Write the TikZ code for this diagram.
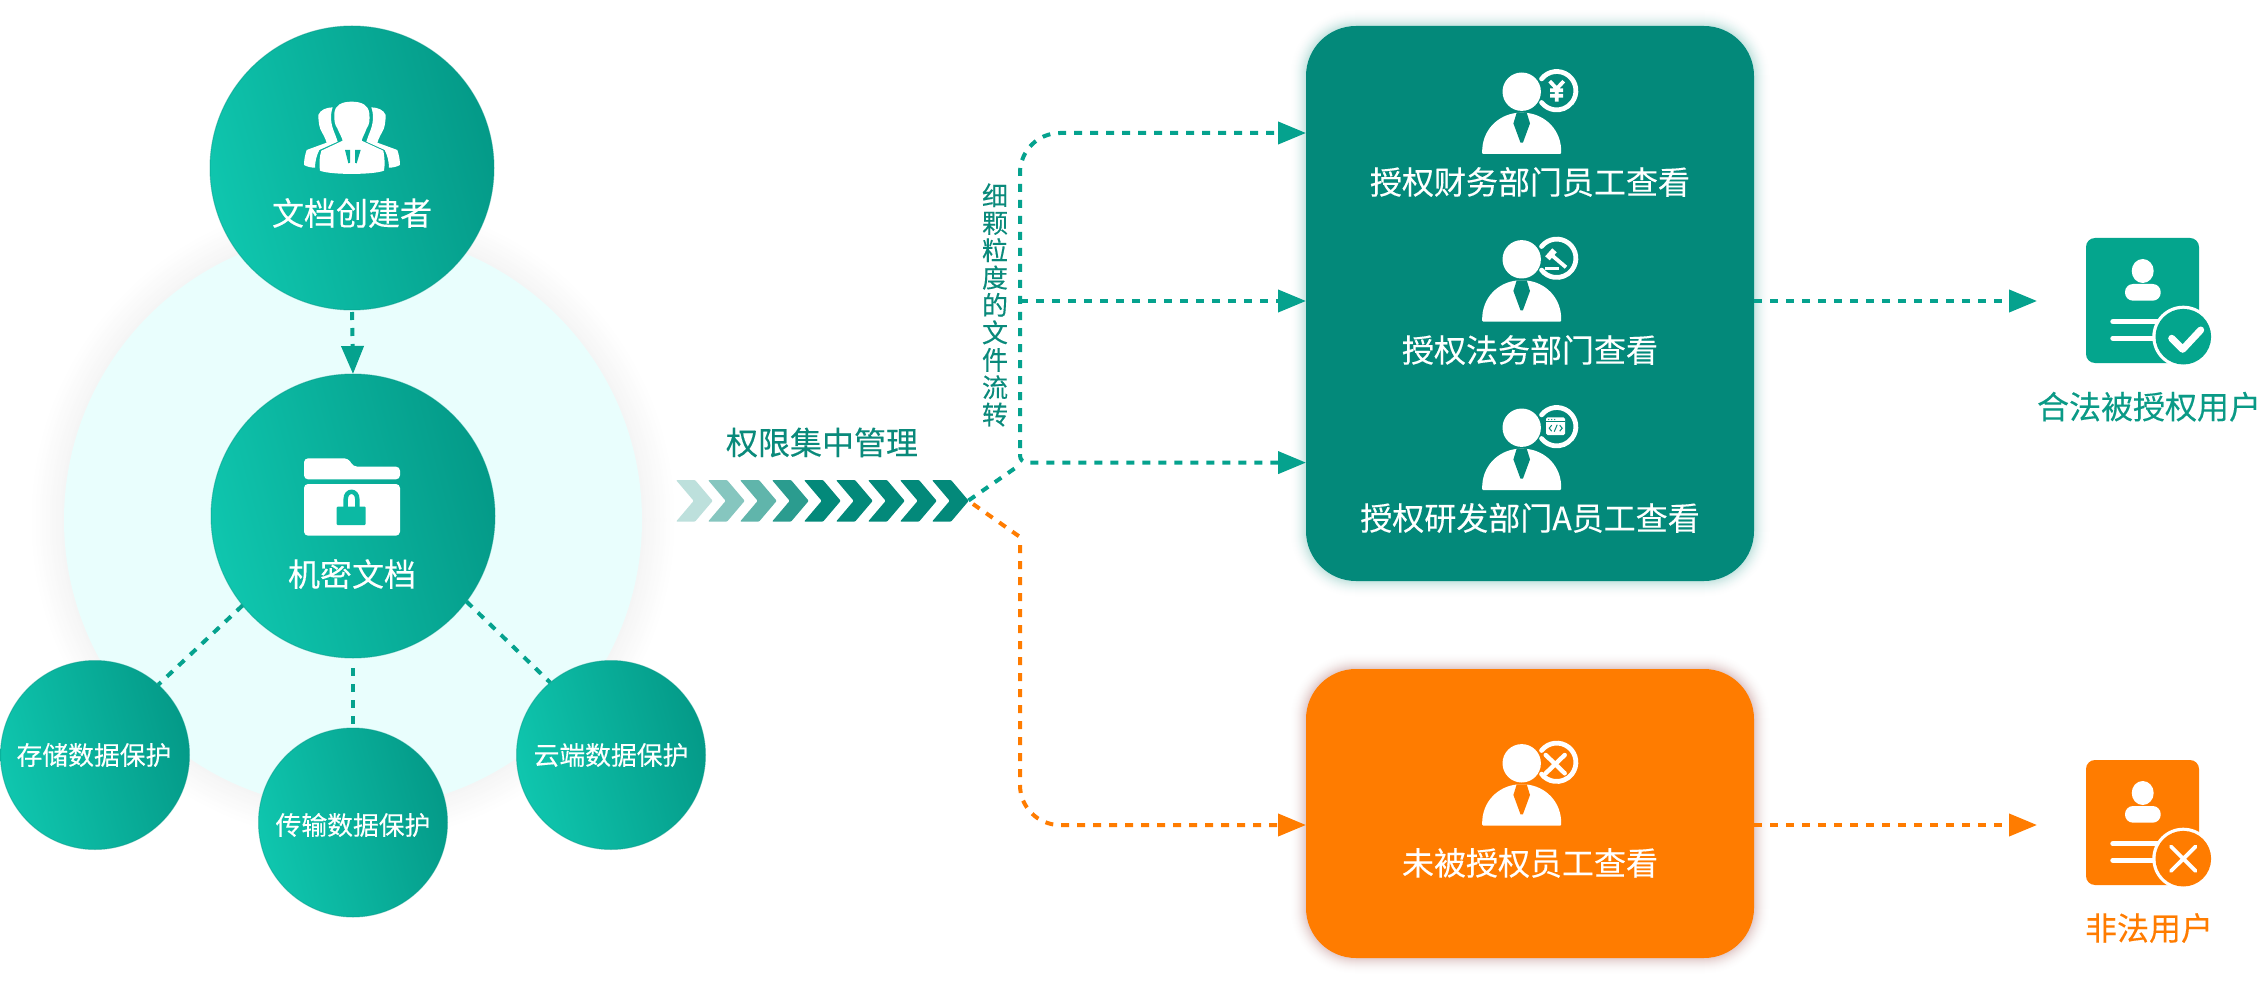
\documentclass[tikz,border=0pt]{standalone}
\usepackage{fontspec}
\setmainfont{Noto Sans CJK SC}[FakeBold=0.25]
\usetikzlibrary{arrows.meta,calc}
\definecolor{boxteal}{HTML}{03897A}
\definecolor{dashteal}{HTML}{05A28E}
\definecolor{cardteal}{HTML}{04A58D}
\definecolor{txtteal}{HTML}{0A8A7B}
\definecolor{legaltxt}{HTML}{0A9A86}
\definecolor{orng}{HTML}{FF7C00}
\definecolor{glowor}{HTML}{7E1A18}
\definecolor{pale}{HTML}{E9FEFD}
\definecolor{gradA}{HTML}{0FC6AE}
\definecolor{gradB}{HTML}{049A88}
\definecolor{rim}{HTML}{079A88}
\tikzset{
  ball/.style={circle,inner sep=0pt,outer sep=0pt,minimum size=#1,left color=gradA,right color=gradB,shading angle=105,draw=rim,draw opacity=.45,line width=1pt},
  lbl/.style={inner sep=0pt,outer sep=0pt,text=white,font=\fontsize{32}{36}\selectfont},
  smalllbl/.style={inner sep=0pt,outer sep=0pt,text=white,font=\fontsize{25.8}{30}\selectfont},
  tealflow/.style={draw=dashteal,line width=4pt,dash pattern=on 8pt off 8pt},
  orngflow/.style={draw=orng,line width=4pt,dash pattern=on 8pt off 8pt},
  tealhead/.style={-{Triangle[length=28pt,width=22pt,fill=dashteal]}},
  ornghead/.style={-{Triangle[length=28pt,width=22pt,fill=orng]}},
  bigbox/.style={rectangle,rounded corners=50pt,inner sep=0pt,outer sep=0pt,minimum width=448pt},
  cardshape/.style={rectangle,rounded corners=9pt,inner sep=0pt,outer sep=0pt,minimum width=113pt,minimum height=125pt}
}
% person icon, origin at the centre of the head
\newcommand{\personicon}[4]{%
  \begin{scope}[shift={(#1,#2)}]
    \fill[white] (0,0) circle[radius=19.2pt];
    \fill[white,rounded corners=1pt] (-39.5,62.3) -- (-39.5,58) .. controls (-38,35) and (-20,21) .. (0,21) .. controls (20,21) and (38,35) .. (39.5,58) -- (39.5,62.3) -- cycle;
    \fill[#3] (-5,21) -- (5,21) -- (8.3,31.7) -- (1.2,51) -- (-1.2,51) -- (-8.3,31.7) -- cycle;
    \draw[white,line width=4.8pt,line cap=round] (19.87,-12.82) arc[start angle=142,end angle=-142,radius=19.2pt];
    #4
  \end{scope}}
% person card
\newcommand{\usercard}[4]{%
  \node[cardshape,fill=#3] (#1) at (2142.5,#2) {};
  \begin{scope}[shift={(0,#2-300.5)}]
    \fill[white] (2142.7,271) ellipse[x radius=11pt,y radius=12pt];
    \fill[white,rounded corners=8pt] (2125,284) rectangle (2160.7,300.7);
    \draw[white,line width=5.5pt,line cap=round] (2113,321.7) -- (2165,321.7) (2113,338.3) -- (2165,338.3);
    \fill[white] (2183.3,336.7) circle[radius=31pt];
    \fill[#3] (2183.3,336.7) circle[radius=27.8pt];
    #4
  \end{scope}}
% soft glow of a big box
\newcommand{\glowbox}[6]{%
  \foreach \r in {16,15,...,1}{%
    \pgfmathsetmacro{\p}{#6*(1-\r/17)*(1-\r/17)}%
    \fill[#5!\p!white,rounded corners={(50+\r)*1pt}] (#1-\r,#2-\r) rectangle (#3+\r,#4+\r);
  }}
\begin{document}
\begin{tikzpicture}[x=1pt,y=-1pt]
\useasboundingbox (0,0) rectangle (2262,984);
\fill[white] (0,0) rectangle (2262,984);

% ---- big pale circle with its soft shadow
\foreach \r in {32,30,...,2}{%
  \pgfmathsetmacro{\p}{4*(1-\r/34)}%
  \fill[black!\p!white] (353,520) circle[radius={(289+\r)*1pt}];
}
\fill[pale] (353,520) circle[radius=289pt];

% ---- circles
\node[ball=284pt] (creator) at (352,168) {};
\node[ball=284pt] (doc) at (353,516) {};
\node[ball=189pt] (store) at (95,755) {};
\node[ball=189pt] (trans) at (353,822.5) {};
\node[ball=189pt] (cloud) at (611,755) {};

\node[lbl] (creatorlbl) at (352,213) {文档创建者};
\node[lbl] (doclbl) at (352,574) {机密文档};
\node[smalllbl] (storelbl) at (94,755) {存储数据保护};
\node[smalllbl] (translbl) at (353,825) {传输数据保护};
\node[smalllbl] (cloudlbl) at (611,755) {云端数据保护};

% ---- people icon in the top circle
\begin{scope}[shift={(180,0)},x=0.33333pt,y=-0.33333pt]
  \fill[white] (515,305) .. controls (545,305) and (565,315) .. (568,340) .. controls (570,360) and (568,375) .. (560,385) .. controls (555,400) and (548,410) .. (545,422)
     -- (610,452) .. controls (614,470) and (615,495) .. (612,512) .. controls (580,525) and (450,525) .. (420,512) .. controls (417,495) and (418,470) .. (424,452)
     -- (488,422) .. controls (485,410) and (478,400) .. (472,385) .. controls (464,375) and (462,360) .. (463,340) .. controls (465,315) and (485,305) .. (515,305) -- cycle;
  \fill[white] (458,322) .. controls (450,345) and (452,370) .. (462,395) .. controls (466,405) and (470,415) .. (473,425)
     -- (418,450) .. controls (410,465) and (405,485) .. (405,503) .. controls (395,503) and (383,501) .. (372,495) .. controls (372,480) and (375,465) .. (380,450)
     -- (440,428) .. controls (436,415) and (430,405) .. (425,395) .. controls (418,385) and (415,365) .. (415,345) .. controls (420,330) and (440,322) .. (458,322) -- cycle;
  \fill[white] (574,322) .. controls (582,345) and (580,370) .. (570,395) .. controls (566,405) and (562,415) .. (559,425)
     -- (614,450) .. controls (622,465) and (627,485) .. (627,503) .. controls (637,503) and (649,501) .. (660,495) .. controls (660,480) and (657,465) .. (652,450)
     -- (592,428) .. controls (596,415) and (602,405) .. (607,395) .. controls (614,385) and (617,365) .. (617,345) .. controls (612,330) and (592,322) .. (574,322) -- cycle;
  \fill[gradA!55!gradB] (495,450) -- (510,450) -- (510,488) -- (505,490) -- cycle;
  \fill[gradA!45!gradB] (525,450) -- (542,450) -- (530,490) -- (525,488) -- cycle;
\end{scope}

% ---- folder icon
\begin{scope}[shift={(280,430)},x=0.33333pt,y=-0.33333pt]
  \fill[white,rounded corners=4pt] (72,148) -- (72,85) -- (205,85) -- (220,110) -- (360,110) -- (360,148) -- cycle;
  \fill[white,rounded corners=4pt] (72,162) -- (360,162) -- (360,317) -- (72,317) -- cycle;
  \fill[gradA!70!gradB,rounded corners=1pt] (170,230) rectangle (257,285);
  \draw[gradA!70!gradB,line width=4.5pt] (197,232) -- (197,208) .. controls (197,178) and (232,178) .. (232,208) -- (232,232);
\end{scope}

% ---- connectors on the left
\draw[tealflow,tealhead,shorten <=2pt] (creator.south) -- (doc.north);
\draw[tealflow] (doc.219) -- (store.48);
\draw[tealflow,shorten <=10pt] (doc.south) -- (trans.north);
\draw[tealflow] (doc.-37) -- (cloud.130);

% ---- chevrons
\foreach \i/\o in {0/26,1/48,2/63,3/84,4/100,5/100,6/100,7/100,8/100}{%
  \fill[boxteal!\o!white,rounded corners=1pt,shift={(676+32*\i,480)}] (0,0) -- (19,0) -- (36.7,20.85) -- (19,41.7) -- (0,41.7) -- (17.7,20.85) -- cycle;
}
\coordinate (chevtip) at (968.5,500.5);
\coordinate (chevlow) at (973,504);
\node[inner sep=0pt,outer sep=0pt,text=txtteal,font=\fontsize{32}{36}\selectfont] (mgmt) at (822,442.5) {权限集中管理};
\node[inner sep=0pt,outer sep=0pt,text=txtteal,font=\fontsize{26}{27.4}\selectfont,align=center] (flowlbl) at (995,305) {细\\颗\\粒\\度\\的\\文\\件\\流\\转};

% ---- big boxes
\glowbox{1306}{26}{1754}{581}{boxteal}{24}
\glowbox{1306}{669}{1754}{958}{glowor}{24}
\node[bigbox,fill=boxteal,minimum height=555pt] (auth) at (1530,303.5) {};
\node[bigbox,fill=orng,minimum height=289pt] (unauth) at (1530,813.5) {};

% ---- person icons
\personicon{1521.7}{91.7}{boxteal}{%
  \draw[white,line width=3.8pt] (28,-10.5) -- (35,-3) -- (42,-10.5) (35,-3) -- (35,10) (28.5,-1.5) -- (41.5,-1.5) (28.5,4) -- (41.5,4);}
\personicon{1521.7}{259.3}{boxteal}{%
  \draw[white,line width=6pt] (25.7,-1) -- (32.8,-9);
  \draw[white,line width=3.8pt] (31,-3.3) -- (44.3,8);
  \draw[white,line width=2.8pt] (23.3,9) -- (37.7,9);}
\personicon{1521.7}{427.7}{boxteal}{%
  \fill[white,rounded corners=1.5pt] (24.3,-10.3) rectangle (43.3,7.3);
  \draw[boxteal,line width=1pt] (24.3,-6) -- (43.3,-6);
  \fill[boxteal] (27,-8.2) circle[radius=.7pt] (30,-8.2) circle[radius=.7pt] (33,-8.2) circle[radius=.7pt];
  \draw[boxteal,line width=1pt] (30,-2.5) -- (27.5,0.5) -- (30,3.5) (38,-2.5) -- (40.5,0.5) -- (38,3.5) (35.5,-3) -- (32.5,4);}
\personicon{1521.7}{763.3}{orng}{%
  \draw[white,line width=4.4pt,line cap=round] (24,-8.3) -- (43,10) (24,10) -- (43,-8.3);}

\node[lbl] (t1) at (1530,182) {授权财务部门员工查看};
\node[lbl] (t2) at (1530,350) {授权法务部门查看};
\node[lbl] (t3) at (1530,518) {授权研发部门A员工查看};
\node[lbl] (t4) at (1530,863) {未被授权员工查看};

% ---- user cards
\usercard{legal}{300.5}{cardteal}{%
  \draw[white,line width=7pt,line cap=round,line join=round] (2171.7,338.3) -- (2182.7,349.3) -- (2200.7,330);}
\usercard{illegal}{822.5}{orng}{%
  \draw[white,line width=3.8pt,line cap=round] (2171,324.5) -- (2195.6,349) (2171,349) -- (2195.6,324.5);}
\node[inner sep=0pt,text=legaltxt,font=\fontsize{32}{36}\selectfont] (legallbl) at (2149,406.7) {合法被授权用户};
\node[inner sep=0pt,text=orng,font=\fontsize{32}{36}\selectfont] (illegallbl) at (2149,928) {非法用户};

% ---- flow connectors
\coordinate (y1) at (0,133);
\coordinate (y2) at (0,301);
\coordinate (y3) at (0,462.6);
\coordinate (y4) at (0,825);
\coordinate (forklow) at (1016,467.5);
\coordinate (trunktop) at (1020,448);
\coordinate (trunkmid) at (1020,301);
\coordinate (trunklow) at (1020,454);
\coordinate (orngbend) at (1020,537);
\coordinate (orngdown) at (1020,545);
\coordinate (legalend) at (2037,301);
\coordinate (illegalend) at (2037,825);
\draw[tealflow] (chevtip) -- (forklow);
\draw[tealflow,tealhead,rounded corners=40pt] (trunktop) |- (auth.west |- y1);
\draw[tealflow,tealhead] (trunkmid) -- (auth.west |- y2);
\draw[tealflow,tealhead,rounded corners=7pt] (trunklow) |- (auth.west |- y3);
\draw[orngflow] (chevlow) -- (orngbend);
\draw[orngflow,ornghead,rounded corners=40pt] (orngdown) |- (unauth.west |- y4);
\draw[tealflow,tealhead] (auth.east |- y2) -- (legalend);
\draw[orngflow,ornghead] (unauth.east |- y4) -- (illegalend);
\end{tikzpicture}
\end{document}
